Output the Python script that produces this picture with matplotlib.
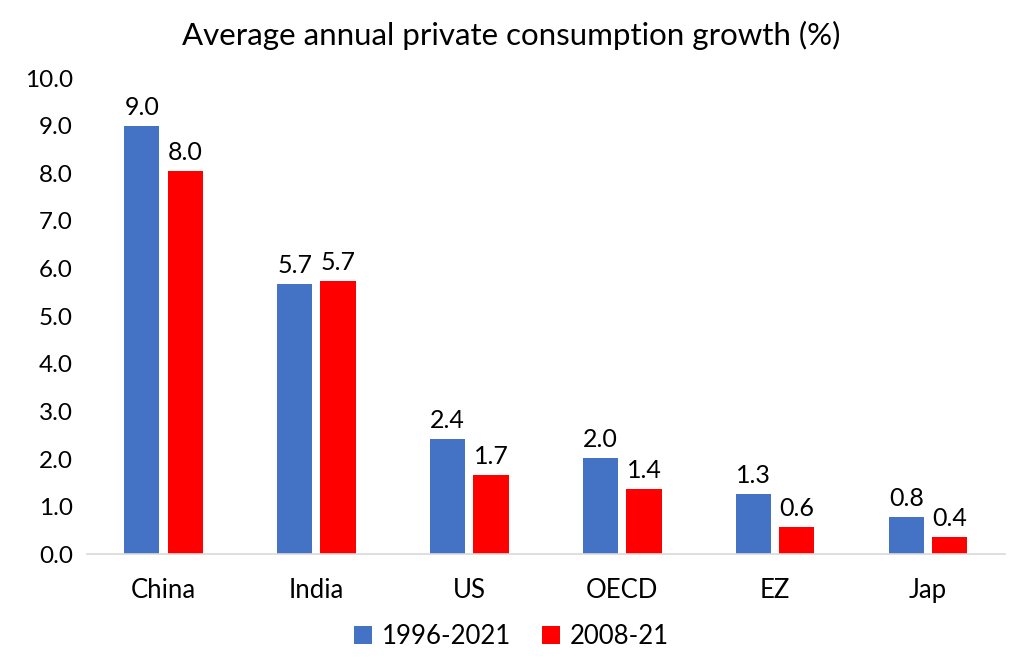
import matplotlib.pyplot as plt
import numpy as np

plt.rcParams['font.family'] = ['Lato', 'DejaVu Sans']

regions = ['China', 'India', 'US', 'OECD', 'EZ', 'Jap']
growth_1996_2021 = [8.99, 5.67, 2.42, 2.02, 1.26, 0.78]
growth_2008_21 = [8.04, 5.74, 1.66, 1.37, 0.57, 0.36]
series_names = ['1996-2021', '2008-21']

x = np.arange(len(regions))
w = 0.23
off = 0.142

fig = plt.figure(figsize=(10.23, 6.67), dpi=100)
ax = fig.add_axes([0.085, 0.169, 0.897, 0.714])

b1 = ax.bar(x - off, growth_1996_2021, w, color='#4472C4', label=series_names[0])
b2 = ax.bar(x + off, growth_2008_21, w, color='#FF0000', label=series_names[1])

for bars in (b1, b2):
    ax.bar_label(bars, labels=[f'{v:.1f}' for v in bars.datavalues],
                 padding=5, fontsize=18)

ax.set_xlim(-0.5, 5.5)
ax.set_ylim(0, 10)
ax.set_yticks(np.arange(0, 10.5, 1.0))
ax.set_yticklabels([f'{v:.1f}' for v in np.arange(0, 10.5, 1.0)], fontsize=17.5)
ax.set_xticks(x)
ax.set_xticklabels(regions, fontsize=18.5)
ax.tick_params(length=0)
ax.tick_params(axis='x', pad=17)
ax.tick_params(axis='y', pad=10)

for s in ['top', 'right', 'left']:
    ax.spines[s].set_visible(False)
ax.spines['bottom'].set_color('#d9d9d9')
ax.spines['bottom'].set_linewidth(1.2)

fig.suptitle('Average annual private consumption growth (%)', fontsize=22.5, y=0.968)

fig.legend(loc='lower center', bbox_to_anchor=(0.5, -0.008), ncol=2, frameon=False,
           fontsize=18.5, handlelength=0.7, handleheight=0.7, columnspacing=1.2,
           handletextpad=0.4)

fig.savefig('out.png', dpi=100)
